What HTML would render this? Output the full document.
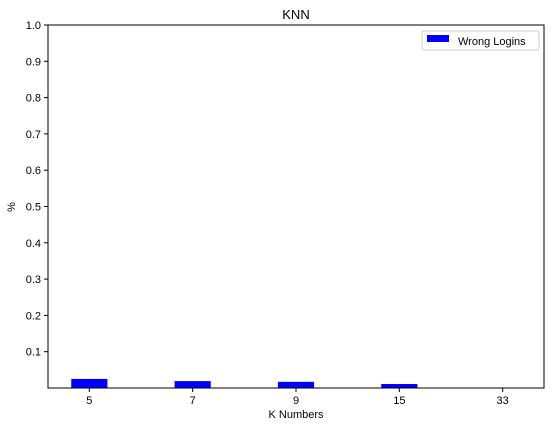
<!DOCTYPE html>
<html><head><meta charset="utf-8"><style>
body{margin:0;background:#fff;}
svg{display:block;font-family:"Liberation Sans","DejaVu Sans",sans-serif;}
</style></head><body>
<svg id="chart" width="555" height="428" viewBox="0 0 555 428">
<rect width="555" height="428" fill="#fff"/>
<text x="296" y="19" font-size="13" text-anchor="middle">KNN</text>
<g id="bars"></g>
<g id="axes"></g>
<text x="296" y="418" font-size="11" text-anchor="middle">K Numbers</text>
<text x="15" y="207" font-size="11" text-anchor="middle" transform="rotate(-90 15 207)">%</text>
<g>
<rect x="422" y="31" width="117" height="19" fill="#fff" stroke="#ccc" rx="2"/>
<rect x="427" y="35" width="22" height="7" fill="#0000ff"/>
<text x="458" y="45" font-size="11">Wrong Logins</text>
</g>
</svg>
<script>
const categories = ["5","7","9","15","33"];
const wrongLogins = [0.025, 0.019, 0.017, 0.011, 0.0];
const yTicks = [0.1,0.2,0.3,0.4,0.5,0.6,0.7,0.8,0.9,1.0];
const L=48,R=544,T=25,B=388;
const xs=i=>L+(i+0.4)/4.8*(R-L);
const ys=v=>B-v*(B-T);
const NS="http://www.w3.org/2000/svg";
const bars=document.getElementById('bars'), axes=document.getElementById('axes');
function mk(tag,attrs,parent){const e=document.createElementNS(NS,tag);for(const k in attrs)e.setAttribute(k,attrs[k]);parent.appendChild(e);return e;}
const bw=0.35/4.8*(R-L);
wrongLogins.forEach((v,i)=>{
  const r=mk('rect',{x:xs(i)-bw/2,y:ys(v),width:bw,height:B-ys(v),fill:'#0000ff'},bars);
  
  
});
const frame=mk('rect',{x:L,y:T,width:R-L,height:B-T,fill:'none',stroke:'#000','stroke-width':1},axes);


yTicks.forEach(t=>{
  mk('line',{x1:L-4,x2:L,y1:ys(t),y2:ys(t),stroke:'#000'},axes);
  const tx=mk('text',{x:L-7,y:ys(t)+4,'font-size':11,'text-anchor':'end'},axes);
  tx.textContent=t.toFixed(1);
  
  
});
categories.forEach((c,i)=>{
  mk('line',{x1:xs(i),x2:xs(i),y1:B,y2:B+4,stroke:'#000'},axes);
  const tx=mk('text',{x:xs(i),y:B+16,'font-size':11,'text-anchor':'middle'},axes);
  tx.textContent=c;
  
  
});
</script>
</body></html>
